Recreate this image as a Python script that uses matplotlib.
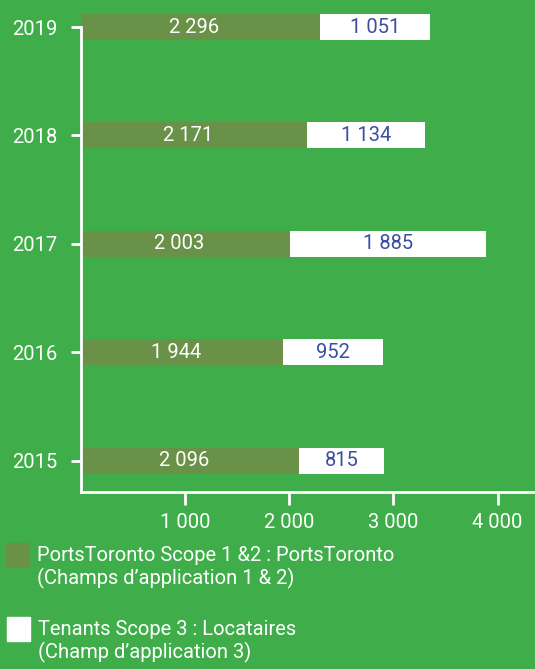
import matplotlib.pyplot as plt
from matplotlib.patches import Rectangle

years = ['2015', '2016', '2017', '2018', '2019']
scope12 = [2096, 1944, 2003, 2171, 2296]
scope3 = [815, 952, 1885, 1134, 1051]
xticks = [1000, 2000, 3000, 4000]
xtick_labels = ['1 000', '2 000', '3 000', '4 000']
legend_labels = ['PortsToronto Scope 1 &2 : PortsToronto\n(Champs d\u2019application 1 & 2)',
                 'Tenants Scope 3 : Locataires\n(Champ d\u2019application 3)']

GREEN = '#3fae4a'
OLIVE = '#6a9148'
BLUE = '#3a4fa0'

plt.rcParams['font.family'] = ['Roboto', 'DejaVu Sans']
FS = 14.5

def fmt(v):
    return f"{v:,}".replace(',', ' ')

fig = plt.figure(figsize=(5.35, 6.69), dpi=100, facecolor=GREEN)
ax = fig.add_axes([81/535, 1-492/669, 1-81/535, (492-14)/669])
ax.set_facecolor(GREEN)

ypos = list(range(len(years)))
ax.barh(ypos, scope12, height=0.24, color=OLIVE)
ax.barh(ypos, scope3, left=scope12, height=0.24, color='white')

for y, a, b in zip(ypos, scope12, scope3):
    ax.text(a/2 - 60, y, fmt(a), color='white', ha='center', va='center', fontsize=FS)
    ax.text(a + b/2, y, fmt(b), color=BLUE, ha='center', va='center', fontsize=FS)

ax.set_xlim(0, 4360)
ax.set_ylim(-0.29, 4.12)
ax.set_yticks(ypos)
ax.set_yticklabels(years)
ax.set_xticks(xticks)
ax.set_xticklabels(xtick_labels)

for s in ['top', 'right']:
    ax.spines[s].set_visible(False)
for s in ['left', 'bottom']:
    ax.spines[s].set_color('white')
    ax.spines[s].set_linewidth(2)
ax.spines['left'].set_bounds(-0.29, 4.0)
ax.tick_params(axis='y', colors='white', length=7, width=2, pad=10, labelsize=FS)
ax.tick_params(axis='x', colors='white', length=9, width=2, pad=6, labelsize=FS)

# legend
fig.patches.append(Rectangle((6/535, 1-567/669), 23/535, 24/669, transform=fig.transFigure,
                             color=OLIVE, figure=fig))
fig.patches.append(Rectangle((7/535, 1-641/669), 23/535, 24/669, transform=fig.transFigure,
                             color='white', figure=fig))
fig.text(37/535, 1-546/669, legend_labels[0], color='white', fontsize=FS, va='top', linespacing=1.2)
fig.text(38/535, 1-620/669, legend_labels[1], color='white', fontsize=FS, va='top', linespacing=1.2)

fig.savefig('out.png', dpi=100, facecolor=GREEN)
